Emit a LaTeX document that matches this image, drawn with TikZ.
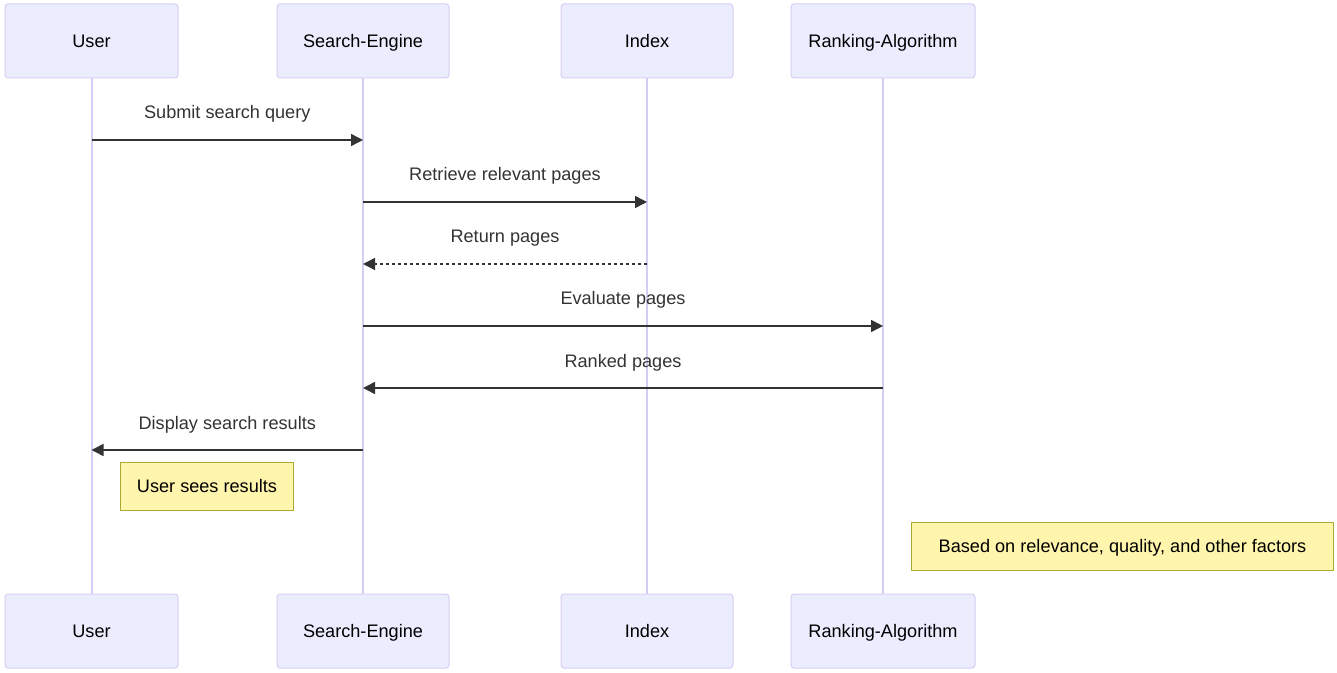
\documentclass[tikz,border=0pt]{standalone}
\usepackage{fontspec}
\setmainfont{Liberation Sans}
\usetikzlibrary{arrows.meta}
\definecolor{actorfill}{HTML}{ECECFF}
\definecolor{actorline}{HTML}{D6CEF2}
\definecolor{notefill}{HTML}{FFF5AD}
\definecolor{noteline}{HTML}{AAAA33}
\definecolor{msgcolor}{HTML}{333333}
\tikzset{
  actor/.style={draw=actorline,fill=actorfill,line width=0.75pt,rounded corners=2.25pt,
    minimum height=55.5pt,inner sep=0pt,text=black,text height=9.8pt,text depth=0pt},
  lifeline/.style={draw=actorline,line width=1.5pt},
  msg/.style={draw=msgcolor,line width=1.1pt,-{Triangle[length=9pt,width=9pt]}},
  reply/.style={msg,dash pattern=on 2.25pt off 2.25pt},
  msglabel/.style={text=msgcolor,anchor=base,yshift=15.75pt,inner sep=0pt},
  note/.style={draw=noteline,fill=notefill,line width=0.75pt,minimum height=36pt,
    inner sep=0pt,text=black,anchor=west,text height=9.8pt,text depth=0pt},
}
\begin{document}
\begin{tikzpicture}[x=0.75pt,y=-0.75pt,line join=round,font=\fontsize{13.6pt}{16pt}\selectfont]
				\useasboundingbox (0,0) rectangle (1337,673);
				% participants, top and bottom
				\foreach \name/\x/\w/\txt in {user/91.5/129.75pt/User,engine/363/129pt/Search-Engine,
				    index/647/129pt/Index,ranking/883/138pt/Ranking-Algorithm}{
					\node[actor,minimum width=\w] (\name) at (\x,41) {\txt};
					\node[actor,minimum width=\w] (\name B) at (\x,631) {\txt};
					\draw[lifeline] (\name.south) -- (\name B.north);
				}
				% message rows
				\coordinate (m1) at (0,140);
				\coordinate (m2) at (0,202);
				\coordinate (m3) at (0,264);
				\coordinate (m4) at (0,326);
				\coordinate (m5) at (0,388);
				\coordinate (m6) at (0,450);
				\draw[msg] (user |- m1) -- node[msglabel] {Submit search query} (engine |- m1);
				\draw[msg] (engine |- m2) -- node[msglabel] {Retrieve relevant pages} (index |- m2);
				\draw[reply] (index |- m3) -- node[msglabel] {Return pages} (engine |- m3);
				\draw[msg] (engine |- m4) -- node[msglabel] {Evaluate pages} (ranking |- m4);
				\draw[msg] (ranking |- m5) -- node[msglabel] {Ranked pages} (engine |- m5);
				\draw[msg] (engine |- m6) -- node[msglabel] {Display search results} (user |- m6);
				% notes
				\node[note,minimum width=129.75pt] (seen) at (120,486) {User sees results};
				\node[note,minimum width=316.5pt] (basis) at (911,546) {Based on relevance, quality, and other factors};
			\end{tikzpicture}
\end{document}
